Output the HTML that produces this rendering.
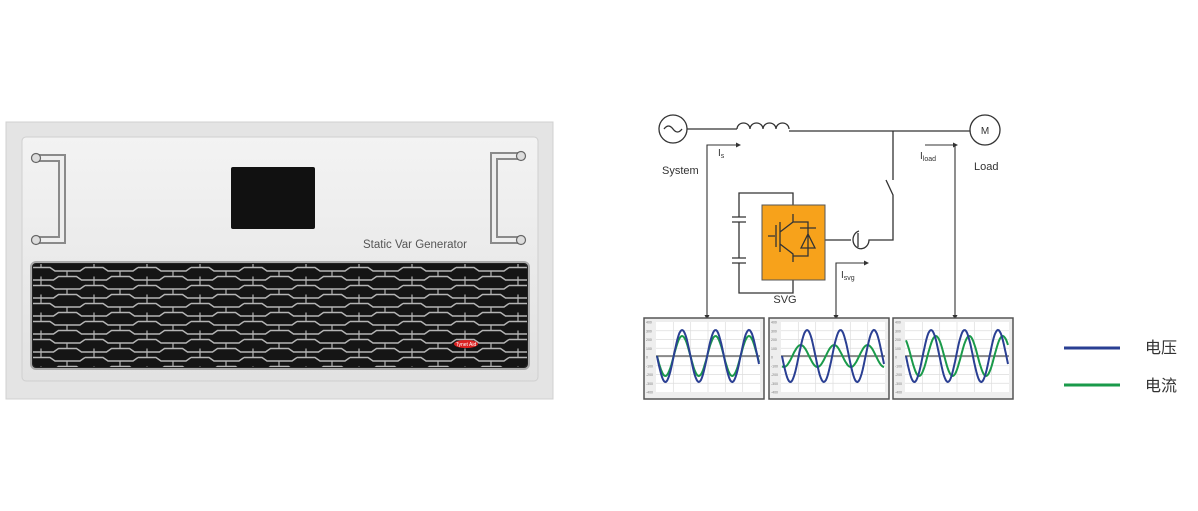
<!DOCTYPE html>
<html><head><meta charset="utf-8"><style>
html,body{margin:0;padding:0;background:#fff;width:1198px;height:511px;overflow:hidden}
svg{display:block}
</style></head><body>
<svg id="s" width="1198" height="511" viewBox="0 0 1198 511" xmlns="http://www.w3.org/2000/svg" font-family="Liberation Sans, sans-serif">
<defs>
<linearGradient id="face" x1="0" y1="0" x2="0" y2="1"><stop offset="0" stop-color="#f3f3f3"/><stop offset="1" stop-color="#e2e2e2"/></linearGradient>
<pattern id="grill" x="32" y="263" width="53" height="18" patternUnits="userSpaceOnUse">
<rect width="53" height="18" fill="#151515"/>
<path d="M0 4.5 H18 L23 8 H48 L53 4.5" fill="none" stroke="#b5b5b5" stroke-width="1.4"/>
<path d="M-26.5 13.5 H-8.5 L-3.5 17 H21.5 L26.5 13.5 H44.5 L49.5 17 H74.5" fill="none" stroke="#b5b5b5" stroke-width="1.4"/>
<path d="M9 4.5 V-1 M35 8 V13.5 M9 19 V13.5" stroke="#b5b5b5" stroke-width="1.2"/>
</pattern>
</defs>
<!-- device -->
<rect x="6" y="122" width="547" height="277" fill="#e4e4e4" stroke="#d0d0d0"/>
<rect x="22" y="137" width="516" height="244" rx="4" fill="url(#face)" stroke="#cfcfcf"/>
<rect x="231" y="167" width="84" height="62" rx="2" fill="#111"/>
<text x="363" y="248" font-size="11.5" fill="#555">Static Var Generator</text>
<rect x="31" y="262" width="498" height="107" rx="5" fill="#222" stroke="#aaa" stroke-width="2"/>
<rect x="33" y="264" width="494" height="103" rx="4" fill="url(#grill)"/>
<ellipse cx="466" cy="344" rx="12" ry="4" fill="#d22"/>
<text x="466" y="346" font-size="5" fill="#fff" text-anchor="middle">Tynet Aid</text>
<!-- handles -->
<g fill="none" stroke-linecap="round">
<path d="M35 158 H62 V240 H35" stroke="#8a8a8a" stroke-width="8"/>
<path d="M35 158 H62 V240 H35" stroke="#eee" stroke-width="4"/>
<path d="M521 156 H494 V240 H521" stroke="#8a8a8a" stroke-width="8"/>
<path d="M521 156 H494 V240 H521" stroke="#eee" stroke-width="4"/>
</g>
<g fill="#ddd" stroke="#666" stroke-width="1.2"><circle cx="36" cy="158" r="4.5"/><circle cx="36" cy="240" r="4.5"/><circle cx="521" cy="156" r="4.5"/><circle cx="521" cy="240" r="4.5"/></g>
<!-- circuit -->
<g stroke="#333" stroke-width="1.3" fill="none">
<circle cx="673" cy="129" r="14"/>
<path d="M664 129 q4.5 -6 9 0 q4.5 6 9 0"/>
<path d="M687 129 H737"/>
<path d="M737 129 a6.5 6 0 0 1 13 0 a6.5 6 0 0 1 13 0 a6.5 6 0 0 1 13 0 a6.5 6 0 0 1 13 0"/>
<path d="M789 131 H970"/>
<circle cx="985" cy="130" r="15"/>
<path d="M893 131 V180 M886 180 L893 195 V240 H873"/>
<path d="M873 240 h-4 a8 9 0 1 1 -10 -9"/>
<path d="M825 240 H851 M858 233 v14"/>
<path d="M739 217 V193 H793 V205 M739 217 H738 M732 217 H746 M732 222 H746 M739 222 V258 M732 258 H746 M732 263 H746 M739 263 V293 H793 V280"/>
</g>
<rect x="762" y="205" width="63" height="75" fill="#f7a21b" stroke="#555"/>
<g stroke="#333" stroke-width="1.3" fill="none">
<path d="M768 236 H775 M776 225 V247 M780 222 V252 M780 232 L793 222 V214 M780 244 L793 254 V262 M793 222 H808 V256 H793 M800 228 H816 M801 248 L808 234 L815 248 Z M808 228 V234"/>
</g>
<text x="785" y="303" font-size="11" fill="#333" text-anchor="middle">SVG</text>
<text x="662" y="174" font-size="11" fill="#333">System</text>
<text x="974" y="170" font-size="11" fill="#333">Load</text>
<text x="985" y="134" font-size="10" fill="#333" text-anchor="middle">M</text>
<text x="718" y="156" font-size="10" fill="#333">I<tspan font-size="7" dy="2">s</tspan></text>
<text x="920" y="159" font-size="10" fill="#333">I<tspan font-size="7" dy="2">load</tspan></text>
<text x="841" y="278" font-size="10" fill="#333">I<tspan font-size="7" dy="2">svg</tspan></text>
<g stroke="#333" stroke-width="1.1" fill="none">
<path d="M707 318 V145 H738"/><path d="M836 318 V263 H866"/><path d="M955 318 V145 H925"/>
</g>
<g fill="#333">
<path d="M741 145 l-5 -2.5 v5z"/><path d="M869 263 l-5 -2.5 v5z"/><path d="M958 145 l-5 -2.5 v5z"/>
<path d="M707 320 l-2.5 -5 h5z"/><path d="M836 320 l-2.5 -5 h5z"/><path d="M955 320 l-2.5 -5 h5z"/>
</g>
<g id="charts"></g>
<!-- legend -->
<path d="M1064 348 H1120" stroke="#2a3f93" stroke-width="3"/>
<path d="M1064 385 H1120" stroke="#1a9a4a" stroke-width="3"/>
<text x="1145" y="353" font-size="16" fill="#333" font-family="Liberation Sans, Noto Sans CJK SC, sans-serif">电压</text>
<text x="1145" y="391" font-size="16" fill="#333" font-family="Liberation Sans, Noto Sans CJK SC, sans-serif">电流</text>
</svg>
<script>
var g=document.getElementById('charts'),h='';
var cs=[[644,20,0],[769,11,1.2],[893,20,-0.9]];
cs.forEach(function(c){
 var x0=c[0],w=120,px=x0+12,pw=104,y0=322,ph=70,zy=356;
 h+='<rect x="'+x0+'" y="318" width="'+w+'" height="81" fill="#eee" stroke="#555" stroke-width="1.5"/>';
 h+='<rect x="'+px+'" y="'+y0+'" width="'+pw+'" height="'+ph+'" fill="#fff"/>';
 for(var i=1;i<6;i++){var gx=px+pw*i/6;h+='<path d="M'+gx+' '+y0+'V'+(y0+ph)+'" stroke="#ddd" stroke-width=".7"/>';}
 for(var j=1;j<8;j++){var gy=y0+ph*j/8;h+='<path d="M'+px+' '+gy+'H'+(px+pw)+'" stroke="#ddd" stroke-width=".7"/>';}
 h+='<path d="M'+px+' '+zy+'H'+(px+pw)+'" stroke="#555" stroke-width="1.2"/>';
 var b='',gr='';
 for(var k=0;k<=100;k++){var x=px+1+k*(pw-2)/100,t=(k/100)*2*Math.PI*3.05;
  b+=(k?'L':'M')+x.toFixed(1)+' '+(zy+26*Math.sin(t)).toFixed(1);
  gr+=(k?'L':'M')+x.toFixed(1)+' '+(zy+c[1]*Math.sin(t+c[2])).toFixed(1);}
 h+='<path d="'+gr+'" fill="none" stroke="#1a9a4a" stroke-width="2"/>';
 h+='<path d="'+b+'" fill="none" stroke="#2a3f93" stroke-width="2"/>';
 for(var j=0;j<=8;j++){h+='<text x="'+(x0+2)+'" y="'+(y0+ph*j/8+1.5)+'" font-size="3.5" fill="#777">'+(400-j*100)+'</text>';}
});
g.innerHTML=h;
</script>
</body></html>
